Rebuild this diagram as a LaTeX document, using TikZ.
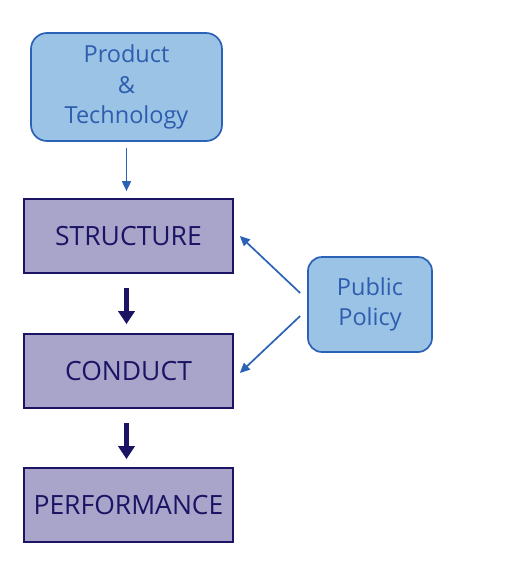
\documentclass[tikz,border=0pt]{standalone}
\usepackage{fontspec}
\setmainfont{Open Sans}
\usetikzlibrary{arrows.meta,positioning}
\definecolor{SkyFill}{HTML}{9AC3E6}
\definecolor{SkyLine}{HTML}{2C62B5}
\definecolor{SkyText}{HTML}{2F5DAE}
\definecolor{LilacFill}{HTML}{A9A4C9}
\definecolor{NavyLine}{HTML}{1B1464}

\begin{document}
\begin{tikzpicture}[x=1pt,y=-1pt,
  src/.style={draw=SkyLine,fill=SkyFill,line width=1.7pt,rounded corners=16pt,
    text=SkyText,align=center,font=\fontsize{23.5}{30.5}\selectfont},
  stage/.style={draw=NavyLine,fill=LilacFill,line width=1.7pt,text=NavyLine,
    minimum width=209pt,minimum height=74pt,font=\fontsize{26.5}{30}\selectfont},
  feed/.style={-{Triangle[length=10pt,width=9pt]},line width=1.7pt,SkyLine},
  push/.style={-{Triangle[length=13pt,width=16pt]},line width=5pt,NavyLine}]
  \useasboundingbox (0,0) rectangle (525,576);
  \node[src,minimum width=191pt,minimum height=108pt] (prod) at (126.5,87) {Product\\\&\\Technology};
  \node[stage] (str) at (128.5,236) {STRUCTURE};
  \node[stage] (con) at (128.5,371) {CONDUCT};
  \node[stage] (perf) at (128.5,505) {PERFORMANCE};
  \node[src,minimum width=124pt,minimum height=95pt,rounded corners=14pt] (pol) at (370,304.5) {Public\\Policy};
  \draw[feed] ([yshift=-6pt]prod.south) -- ([yshift=7pt]prod.south |- str.north);
  \draw[push] ([shift={(-2pt,-14pt)}]str.south) -- ([shift={(-2pt,9pt)}]con.north);
  \draw[push] ([shift={(-2pt,-14pt)}]con.south) -- ([shift={(-2pt,8pt)}]perf.north);
  \draw[feed] ([shift={(-7pt,11.5pt)}]pol.west) -- ([xshift=6pt]str.east);
  \draw[feed] ([shift={(-7pt,-11.5pt)}]pol.west) -- ([shift={(6pt,-2pt)}]con.east);
\end{tikzpicture}
\end{document}
